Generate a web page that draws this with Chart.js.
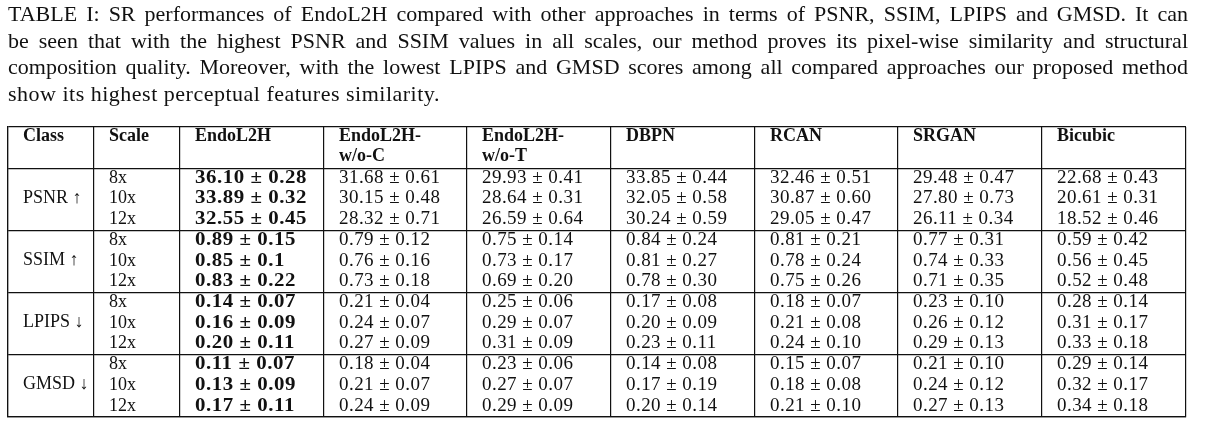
<!DOCTYPE html>
<html>
<head>
<meta charset="utf-8">
<script src="https://cdn.jsdelivr.net/npm/chart.js@4/dist/chart.umd.min.js"></script>
<style>
  html, body { margin: 0; padding: 0; background: #fff; }
  #wrap { position: relative; width: 1205px; height: 426px; overflow: hidden; }
  #cap { position: absolute; left: 8px; top: 1px; width: 1180px; font-family: "Liberation Serif", "Times New Roman", serif; font-size: 22px; color: #111; z-index: 2; }
  #cap div { height: 26.7px; line-height: 26.7px; white-space: nowrap; letter-spacing: 0.5px; }
  #cap div.j { text-align: justify; text-align-last: justify; white-space: normal; letter-spacing: 0; }
  canvas { position: absolute; left: 0; top: 0; }
</style>
</head>
<body>
<div id="wrap">
  <div id="cap"></div>
  <canvas id="c" width="1205" height="426"></canvas>
</div>
<script>
// ---- caption text ----
const captionLines = [
  "TABLE I: SR performances of EndoL2H compared with other approaches in terms of PSNR, SSIM, LPIPS and GMSD. It can",
  "be seen that with the highest PSNR and SSIM values in all scales, our method proves its pixel-wise similarity and structural",
  "composition quality. Moreover, with the lowest LPIPS and GMSD scores among all compared approaches our proposed method",
  "show its highest perceptual features similarity."
];

// ---- table data ----
const headers = [["Class"], ["Scale"], ["EndoL2H"], ["EndoL2H-", "w/o-C"], ["EndoL2H-", "w/o-T"], ["DBPN"], ["RCAN"], ["SRGAN"], ["Bicubic"]];
const classes = ["PSNR \u2191", "SSIM \u2191", "LPIPS \u2193", "GMSD \u2193"];
const scalesList = ["8x", "10x", "12x"];

// values per method: PSNR(8x,10x,12x), SSIM(...), LPIPS(...), GMSD(...)
const endoMean  = ["36.10","33.89","32.55","0.89","0.85","0.83","0.14","0.16","0.20","0.11","0.13","0.17"];
const endoStd   = ["0.28","0.32","0.45","0.15","0.1","0.22","0.07","0.09","0.11","0.07","0.09","0.11"];
const woCMean   = ["31.68","30.15","28.32","0.79","0.76","0.73","0.21","0.24","0.27","0.18","0.21","0.24"];
const woCStd    = ["0.61","0.48","0.71","0.12","0.16","0.18","0.04","0.07","0.09","0.04","0.07","0.09"];
const woTMean   = ["29.93","28.64","26.59","0.75","0.73","0.69","0.25","0.29","0.31","0.23","0.27","0.29"];
const woTStd    = ["0.41","0.31","0.64","0.14","0.17","0.20","0.06","0.07","0.09","0.06","0.07","0.09"];
const dbpnMean  = ["33.85","32.05","30.24","0.84","0.81","0.78","0.17","0.20","0.23","0.14","0.17","0.20"];
const dbpnStd   = ["0.44","0.58","0.59","0.24","0.27","0.30","0.08","0.09","0.11","0.08","0.19","0.14"];
const rcanMean  = ["32.46","30.87","29.05","0.81","0.78","0.75","0.18","0.21","0.24","0.15","0.18","0.21"];
const rcanStd   = ["0.51","0.60","0.47","0.21","0.24","0.26","0.07","0.08","0.10","0.07","0.08","0.10"];
const srganMean = ["29.48","27.80","26.11","0.77","0.74","0.71","0.23","0.26","0.29","0.21","0.24","0.27"];
const srganStd  = ["0.47","0.73","0.34","0.31","0.33","0.35","0.10","0.12","0.13","0.10","0.12","0.13"];
const bicMean   = ["22.68","20.61","18.52","0.59","0.56","0.52","0.28","0.31","0.33","0.29","0.32","0.34"];
const bicStd    = ["0.43","0.31","0.46","0.42","0.45","0.48","0.14","0.17","0.18","0.14","0.17","0.18"];

const methodMeans = [endoMean, woCMean, woTMean, dbpnMean, rcanMean, srganMean, bicMean];
const methodStds  = [endoStd, woCStd, woTStd, dbpnStd, rcanStd, srganStd, bicStd];
const boldColumn = 0; // EndoL2H best

// ---- layout (not data) ----
const colWidths = [86, 86, 144, 143, 144, 144, 143, 144, 144];
const colBounds = colWidths.reduce((a, w) => { a.push(a[a.length - 1] + w); return a; }, [0]);
const headerRows = 2;
const totalRows = headerRows + classes.length * scalesList.length;
const rowBounds = [0, headerRows];
classes.forEach((c, i) => rowBounds.push(headerRows + (i + 1) * scalesList.length));

// caption
const cap = document.getElementById('cap');
captionLines.forEach((t, i) => {
  const d = document.createElement('div');
  d.textContent = t;
  if (i < captionLines.length - 1) d.className = 'j';
  cap.appendChild(d);
});

const SERIF = '"Liberation Serif", "Times New Roman", serif';
const PAD = 15;

function setLS(ctx, v) { if ('letterSpacing' in ctx) ctx.letterSpacing = v; }

const tablePlugin = {
  id: 'tableText',
  afterDraw(chart) {
    const ctx = chart.ctx;
    const xs = chart.scales.x, ys = chart.scales.y;
    ctx.save();
    ctx.fillStyle = '#111';
    ctx.textAlign = 'left';
    ctx.textBaseline = 'alphabetic';
    // header
    ctx.font = 'bold 18px ' + SERIF;
    setLS(ctx, '0px');
    headers.forEach((lines, ci) => {
      const x = xs.getPixelForValue(colBounds[ci]) + PAD;
      lines.forEach((ln, li) => {
        ctx.fillText(ln, x, ys.getPixelForValue(0) + 13.5 + li * 20);
      });
    });
    // class labels
    ctx.font = '18px ' + SERIF;
    classes.forEach((c, gi) => {
      const r = headerRows + gi * scalesList.length + 1;
      ctx.fillText(c, xs.getPixelForValue(colBounds[0]) + PAD, ys.getPixelForValue(r + 1) - 7);
    });
    // scales + values
    classes.forEach((c, gi) => {
      scalesList.forEach((s, si) => {
        const idx = gi * scalesList.length + si;
        const base = ys.getPixelForValue(headerRows + idx + 1) - 6.5;
        ctx.font = '18px ' + SERIF;
        setLS(ctx, '0px');
        ctx.fillText(s, xs.getPixelForValue(colBounds[1]) + PAD, base);
        methodMeans.forEach((arr, mi) => {
          const txt = arr[idx] + ' \u00B1 ' + methodStds[mi][idx];
          const bold = mi === boldColumn;
          const x0 = xs.getPixelForValue(colBounds[mi + 2]) + PAD;
          ctx.save();
          ctx.font = (bold ? 'bold ' : '') + '19px ' + SERIF;
          if (bold) {
            setLS(ctx, '0.5px');
            ctx.translate(x0, base);
            ctx.scale(1.1, 1);
            ctx.fillText(txt, 0, 0);
          } else {
            setLS(ctx, '0.45px');
            ctx.fillText(txt, x0, base);
          }
          ctx.restore();
        });
      });
    });
    ctx.restore();
  }
};

new Chart(document.getElementById('c'), {
  type: 'scatter',
  data: { datasets: [{ data: [], pointRadius: 0 }] },
  options: {
    responsive: false,
    animation: false,
    events: [],
    layout: { padding: { left: 8, right: 19, top: 127, bottom: 9 } },
    plugins: { legend: { display: false }, tooltip: { enabled: false }, title: { display: false } },
    scales: {
      x: {
        type: 'linear', position: 'bottom',
        min: 0, max: colBounds[colBounds.length - 1],
        afterBuildTicks: (sc) => { sc.ticks = colBounds.map(v => ({ value: v })); },
        ticks: { display: false },
        grid: { color: '#111', lineWidth: 1.2, drawTicks: false },
        border: { display: true, color: '#111', width: 1.2 }
      },
      y: {
        type: 'linear', position: 'left', reverse: true,
        min: 0, max: totalRows,
        afterBuildTicks: (sc) => { sc.ticks = rowBounds.map(v => ({ value: v })); },
        ticks: { display: false },
        grid: { color: '#111', lineWidth: 1.2, drawTicks: false },
        border: { display: true, color: '#111', width: 1.2 }
      }
    }
  },
  plugins: [tablePlugin]
});
</script>
</body>
</html>
